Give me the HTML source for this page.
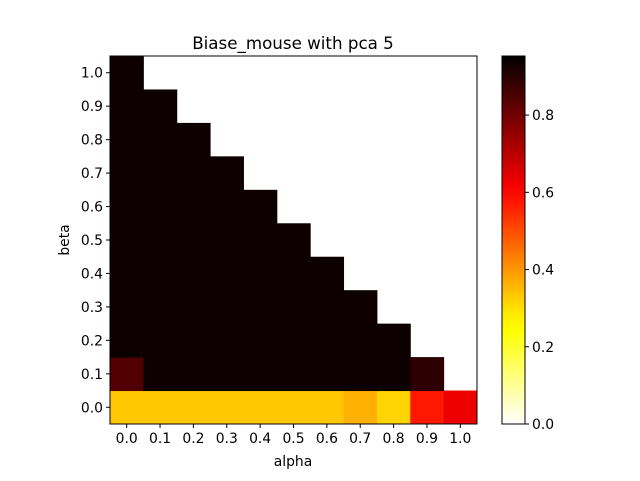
<!DOCTYPE html>
<html><head><meta charset="utf-8"><style>body{margin:0;background:#fff}svg{font-family:"DejaVu Sans","Liberation Sans",sans-serif}</style></head>
<body>
<svg id="chart" width="640" height="476" xmlns="http://www.w3.org/2000/svg">
<defs><linearGradient id="cbg" x1="0" y1="1" x2="0" y2="0"></linearGradient></defs>
<text x="293" y="49" text-anchor="middle" font-size="16.7">Biase_mouse with pca 5</text>
<g id="cells"></g>
<rect x="110" y="56" width="367" height="368" fill="none" stroke="#000" stroke-width="1"/>
<g id="ticks" font-size="13.9"></g>
<text x="293" y="466" text-anchor="middle" font-size="13.9">alpha</text>
<text transform="translate(69,240) rotate(-90)" text-anchor="middle" font-size="13.9">beta</text>
<rect x="502" y="56" width="23" height="368" fill="url(#cbg)" stroke="#000" stroke-width="1"/>
<g id="cbticks" font-size="13.9"></g>
</svg>
<script>
const alphas=["0.0","0.1","0.2","0.3","0.4","0.5","0.6","0.7","0.8","0.9","1.0"];
const betas=["0.0","0.1","0.2","0.3","0.4","0.5","0.6","0.7","0.8","0.9","1.0"];
const rowBeta0=[0.333,0.333,0.333,0.333,0.333,0.333,0.333,0.365,0.316,0.572,0.63];
const rowBeta1=[0.843,0.937,0.937,0.937,0.937,0.937,0.937,0.937,0.937,0.893];
const upperValue=0.937;
const cbTicks=[0,0.2,0.4,0.6,0.8];
const vmin=0,vmax=0.953;
const NS="http://www.w3.org/2000/svg";
const L=110,R=477,T=56,B=424,n=11,cw=(R-L)/n,ch=(B-T)/n;
const xPos=i=>L+i*cw, yPos=j=>B-(j+1)*ch;
function hotR(v){let t=1-(v-vmin)/(vmax-vmin);t=Math.max(0,Math.min(1,t));
 const c=x=>Math.round(255*Math.max(0,Math.min(1,x)));
 return `rgb(${c(t/0.365)},${c((t-0.365)/0.365)},${c((t-0.746)/0.254)})`;}
function value(i,j){if(j===0)return rowBeta0[i];if(j===1)return rowBeta1[i];return i+j<=10?upperValue:null;}
const cells=document.getElementById('cells');
for(let j=0;j<n;j++)for(let i=0;i<n;i++){const v=value(i,j);if(v==null||v===undefined)continue;
 const r=document.createElementNS(NS,'rect');
 r.setAttribute('x',xPos(i));r.setAttribute('y',yPos(j));r.setAttribute('width',cw+0.5);r.setAttribute('height',ch+0.5);r.setAttribute('fill',hotR(v));
 
 
 cells.appendChild(r);}
const tk=document.getElementById('ticks');
function add(p,tag,attrs,txt){const e=document.createElementNS(NS,tag);for(const k in attrs)e.setAttribute(k,attrs[k]);if(txt)e.textContent=txt;p.appendChild(e);return e;}
alphas.forEach((a,i)=>{const x=xPos(i)+cw/2;
 add(tk,'line',{x1:x,x2:x,y1:B,y2:B+4,stroke:'#000'});
 const t=add(tk,'text',{x:x,y:B+19,'text-anchor':'middle'},a);
 
 });
betas.forEach((b,j)=>{const y=yPos(j)+ch/2;
 add(tk,'line',{x1:L-4,x2:L,y1:y,y2:y,stroke:'#000'});
 const t=add(tk,'text',{x:L-7,y:y+5,'text-anchor':'end'},b);
 
 });
const g=document.getElementById('cbg');
for(let k=0;k<=20;k++){const s=document.createElementNS(NS,'stop');s.setAttribute('offset',k/20);s.setAttribute('stop-color',hotR(vmin+(vmax-vmin)*k/20));g.appendChild(s);}
const cbt=document.getElementById('cbticks');
const cy=v=>B-(v-vmin)/(vmax-vmin)*(B-T);
cbTicks.forEach(v=>{const y=cy(v);
 add(cbt,'line',{x1:525,x2:529,y1:y,y2:y,stroke:'#000'});
 const t=add(cbt,'text',{x:532,y:y+5},v.toFixed(1));
 
 });
</script>
</body></html>
